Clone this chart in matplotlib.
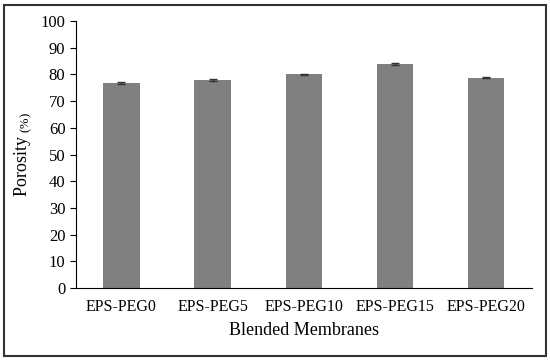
import numpy as np
import matplotlib.pyplot as plt
from matplotlib.patches import Rectangle

plt.rcParams['font.family'] = ['Liberation Serif', 'DejaVu Serif']

membranes = ['EPS-PEG0', 'EPS-PEG5', 'EPS-PEG10', 'EPS-PEG15', 'EPS-PEG20']
porosity = [76.8, 77.8, 80.0, 83.8, 78.8]
errors = [0.3, 0.3, 0.3, 0.3, 0.3]

fig = plt.figure(figsize=(5.5, 3.61), dpi=100)
ax = fig.add_axes([0.138, 0.202, 0.829, 0.740])

x = np.arange(len(membranes))
ax.bar(x, porosity, width=0.4, color='#808080', yerr=errors,
       error_kw=dict(ecolor='#333333', elinewidth=1, capsize=3, capthick=1))

ax.set_xlim(-0.5, len(membranes) - 0.5)
ax.set_ylim(0, 100)
ax.set_yticks(range(0, 101, 10))
ax.set_xticks(x)
ax.set_xticklabels(membranes, fontsize=11.5)
ax.tick_params(axis='y', labelsize=12, length=4, direction='out')
ax.tick_params(axis='x', length=0, pad=8)
ax.spines['top'].set_visible(False)
ax.spines['right'].set_visible(False)
ax.set_xlabel('Blended Membranes', fontsize=13, labelpad=5)
ax.set_ylabel('Porosity $\\mathregular{_{(\\%)}}$', fontsize=13, labelpad=5)

fig.patches.append(Rectangle((0.008, 0.015), 0.984, 0.97, transform=fig.transFigure,
                             fill=False, edgecolor='#333333', linewidth=1.5))

fig.savefig('out.png', dpi=100)
